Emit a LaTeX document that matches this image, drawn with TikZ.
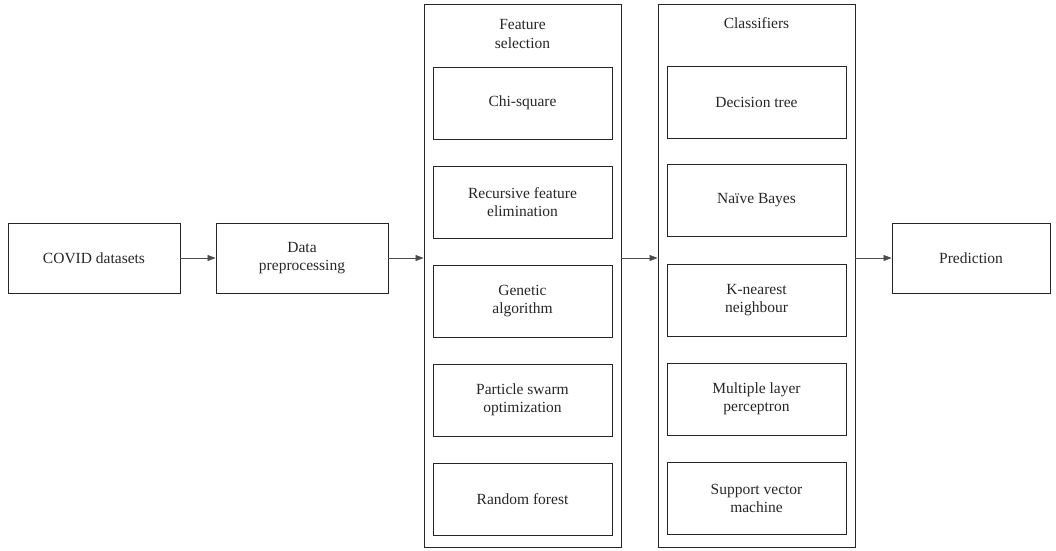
\documentclass[tikz,border=0pt]{standalone}
\usepackage{fontspec}
\setmainfont{Liberation Serif}
\usetikzlibrary{arrows.meta}

\begin{document}
\begin{tikzpicture}[x=1pt, y=-1pt,
        txt/.style={text=black!85, align=center, font=\fontsize{15.5}{18.5}\selectfont},
        stage/.style={txt, draw=black!85, line width=0.9pt, minimum width=172pt, minimum height=70pt},
        group/.style={draw=black!85, line width=0.9pt, minimum width=197pt, minimum height=543pt},
        method/.style={txt, draw=black!85, line width=0.9pt, minimum width=179pt, minimum height=72pt},
        flow/.style={draw=black!70, line width=0.7pt, -{Triangle[length=8pt, width=6pt]}}]
    \useasboundingbox (0,0) rectangle (1056,550);

    \node[stage] (covid) at (94, 258) {COVID datasets};
    \node[stage] (prep) at (302, 258) {Data\\preprocessing};
    \node[stage, minimum width=158pt] (pred) at (971, 258) {Prediction};

    \node[group] (fsel) at (522.5, 275.5) {};
    \node[txt] (fseltitle) at (522.5, 34) {Feature\\selection};
    \node[method] (chi) at (522.5, 103) {Chi-square};
    \node[method] (rfe) at (522.5, 202) {Recursive feature\\elimination};
    \node[method] (ga) at (522.5, 301) {Genetic\\algorithm};
    \node[method] (pso) at (522.5, 400) {Particle swarm\\optimization};
    \node[method] (rf) at (522.5, 499.5) {Random forest};

    \node[group] (clf) at (756.5, 275.5) {};
    \node[txt] (clftitle) at (756.5, 23) {Classifiers};
    \node[method] (dt) at (756.5, 102) {Decision tree};
    \node[method] (nb) at (756.5, 200.5) {Naïve Bayes};
    \node[method] (knn) at (756.5, 300) {K-nearest\\neighbour};
    \node[method] (mlp) at (756.5, 399) {Multiple layer\\perceptron};
    \node[method] (svm) at (756.5, 498.5) {Support vector\\machine};

    \draw[flow] (covid) -- (prep);
    \draw[flow] (prep.east) -- (prep.east -| fsel.west);
    \draw[flow] (fsel.east |- prep) -- (clf.west |- prep);
    \draw[flow] (clf.east |- pred) -- (pred.west);
\end{tikzpicture}
\end{document}
